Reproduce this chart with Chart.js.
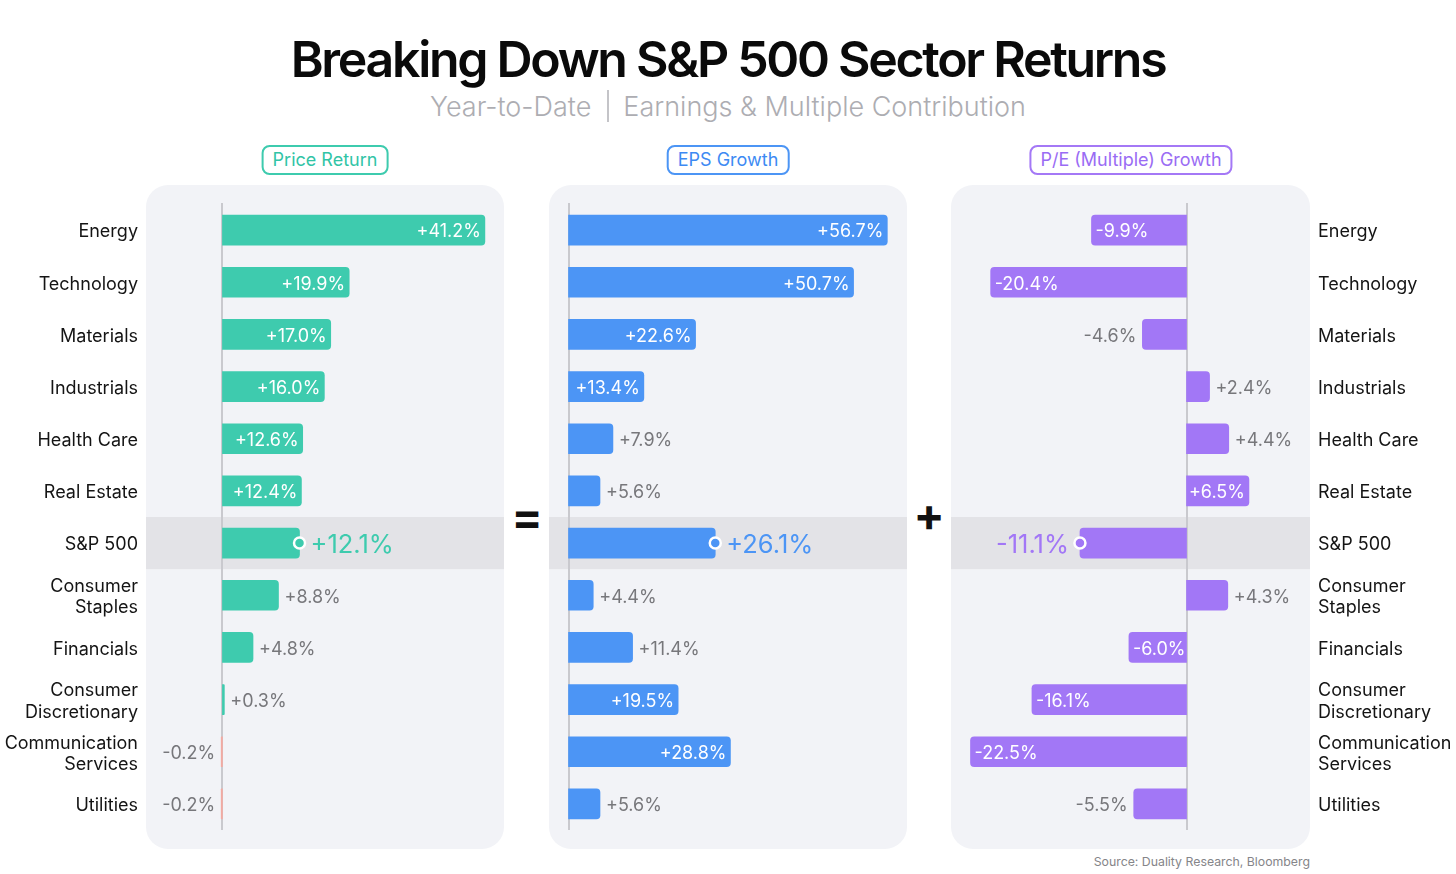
<!DOCTYPE html>
<html><head><meta charset="utf-8">
<script src="https://cdn.jsdelivr.net/npm/chart.js@4/dist/chart.umd.min.js"></script>
<style>
html,body{margin:0;padding:0}
body{width:1456px;height:874px;background:#fff;font-family:Inter,"Noto Sans",sans-serif;position:relative;overflow:hidden}
.abs{position:absolute}
.panel{position:absolute;top:185px;height:664px;background:#f2f3f7;border-radius:22px}
.wrap{position:absolute;top:185px;height:664px}
.pill{position:absolute;top:145px;height:26px;line-height:26px;padding:0 9px;border:2px solid;border-radius:8px;font-size:18px;transform:translateX(-50%);white-space:nowrap;background:#fff}
#title{left:0;width:1456px;top:29px;text-align:center;font-size:50px;font-weight:580;letter-spacing:-2.3px;line-height:60px;color:#0a0a0a}
#sub{left:0;width:1456px;top:88px;text-align:center;font-size:27px;font-weight:300;line-height:38px;color:#adadb2}
#sub .sep{display:inline-block;width:2px;height:32px;background:#c4c4c8;vertical-align:-6px;margin:0 14px 0 16px}
.op{position:absolute;font-weight:700;font-size:46px;line-height:46px;color:#111;transform:translate(-50%,-50%)}
#src{right:146px;top:854px;font-size:12.3px;color:#858589}
</style>
</head><body>
<div class="abs" id="title">Breaking Down S&amp;P 500 Sector Returns</div>
<div class="abs" id="sub">Year-to-Date<span class="sep"></span>Earnings &amp; Multiple Contribution</div>

<div class="pill" style="left:325px;color:#31c4a6;border-color:#3ecbae">Price Return</div>
<div class="pill" style="left:728px;color:#3d8af3;border-color:#4c95f5">EPS Growth</div>
<div class="pill" style="left:1131px;color:#9a6cf4;border-color:#a478f6">P/E (Multiple) Growth</div>

<div class="panel" style="left:146px;width:358px"></div>
<div class="panel" style="left:549px;width:358px"></div>
<div class="panel" style="left:951px;width:359px"></div>

<div class="wrap" style="left:0;width:504px"><canvas id="c1"></canvas></div>
<div class="wrap" style="left:549px;width:358px"><canvas id="c2"></canvas></div>
<div class="wrap" style="left:951px;width:505px"><canvas id="c3"></canvas></div>

<div class="op" style="left:527px;top:516px">=</div>
<div class="op" style="left:929px;top:514px">+</div>
<div class="abs" id="src">Source: Duality Research, Bloomberg</div>

<script>
// ---- data ----
const categories = ['Energy','Technology','Materials','Industrials','Health Care','Real Estate','S&P 500',
  ['Consumer','Staples'],'Financials',['Consumer','Discretionary'],['Communication','Services'],'Utilities'];
const priceReturn = [41.2, 19.9, 17.0, 16.0, 12.6, 12.4, 12.1, 8.8, 4.8, 0.3, -0.2, -0.2];
const epsGrowth   = [56.7, 50.7, 22.6, 13.4, 7.9, 5.6, 26.1, 4.4, 11.4, 19.5, 28.8, 5.6];
const peGrowth    = [-9.9, -20.4, -4.6, 2.4, 4.4, 6.5, -11.1, 4.3, -6.0, -16.1, -22.5, -5.5];
const highlightIndex = 6; // S&P 500 row

const TEAL='#3ecbae', BLUE='#4c95f5', PURPLE='#a277f6', NEG='#f3aaa2';
const FONT='Inter, "Noto Sans", sans-serif';

const panelPlugin = {
  id:'panelDeco',
  beforeDatasetsDraw(chart){
    const ctx=chart.ctx, a=chart.chartArea, ys=chart.scales.y, xs=chart.scales.x;
    const yc=ys.getPixelForValue(highlightIndex);
    const half=(ys.getPixelForValue(1)-ys.getPixelForValue(0))/2;
    ctx.save();
    ctx.fillStyle='#e3e3e7';
    ctx.fillRect(a.left, yc-half, a.right-a.left, half*2);
    const x0=Math.round(xs.getPixelForValue(0));
    ctx.strokeStyle='#c9c9ce'; ctx.lineWidth=2;
    ctx.beginPath(); ctx.moveTo(x0, a.top-1); ctx.lineTo(x0, a.bottom); ctx.stroke();
    ctx.restore();
  },
  afterDatasetsDraw(chart){
    const ctx=chart.ctx, meta=chart.getDatasetMeta(0), data=chart.data.datasets[0].data;
    const color=chart.options.plugins.panelDeco.color;
    ctx.save();
    ctx.textBaseline='middle';
    meta.data.forEach((el,i)=>{
      const v=data[i];
      const txt=(v>0?'+':'')+v.toFixed(1)+'%';
      const pos=v>=0;
      const end=el.x, len=Math.abs(el.x-el.base);
      if(i===highlightIndex){
        ctx.font='400 25.5px '+FONT;
        ctx.fillStyle=color;
        ctx.textAlign=pos?'left':'right';
        ctx.fillText(txt, end+(pos?11:-11), el.y+2);
        ctx.beginPath(); ctx.arc(end, el.y, 5.5, 0, Math.PI*2);
        ctx.fillStyle=color; ctx.fill();
        ctx.lineWidth=2.5; ctx.strokeStyle='#fff'; ctx.stroke();
        return;
      }
      ctx.font='400 18px '+FONT;
      const w=ctx.measureText(txt).width;
      const inside=len>=w+4;
      if(inside){
        ctx.fillStyle='#fff';
        ctx.textAlign=pos?'right':'left';
        ctx.fillText(txt, end+(pos?-4:4), el.y+2);
      } else {
        ctx.fillStyle='#77777b';
        ctx.textAlign=pos?'left':'right';
        ctx.fillText(txt, end+(pos?6:-6), el.y+2);
      }
    });
    ctx.restore();
  }
};

function makeChart(id, values, colors, color, xmin, xmax, axisPos){
  const yAxis = axisPos ? {
    position:axisPos, display:true,
    grid:{display:false, drawTicks:false}, border:{display:false},
    ticks:{font:{family:FONT,size:18,lineHeight:1.17}, color:'#141414', padding:8, autoSkip:false, labelOffset:2},
    afterFit:(s)=>{ s.width=146; }
  } : {display:false};
  return new Chart(document.getElementById(id), {
    type:'bar',
    data:{labels:categories, datasets:[{data:values, backgroundColor:colors, borderRadius:4, borderSkipped:'start',
      barThickness:30, categoryPercentage:1, barPercentage:1}]},
    options:{
      indexAxis:'y', responsive:true, maintainAspectRatio:false, animation:false,
      layout:{padding:{top:19,bottom:19,left:0,right:0}},
      scales:{
        x:{display:false, min:xmin, max:xmax},
        y:yAxis
      },
      plugins:{legend:{display:false}, tooltip:{enabled:false}, panelDeco:{color}}
    },
    plugins:[panelPlugin]
  });
}

makeChart('c1', priceReturn, priceReturn.map(v=>v<0?NEG:TEAL), '#3ecbae', -12.0, 44.2, 'left');
makeChart('c2', epsGrowth, BLUE, '#4c95f5', -3.47, 60.2, null);
makeChart('c3', peGrowth, PURPLE, '#a277f6', -24.53, 12.86, 'right');
</script>
</body></html>
